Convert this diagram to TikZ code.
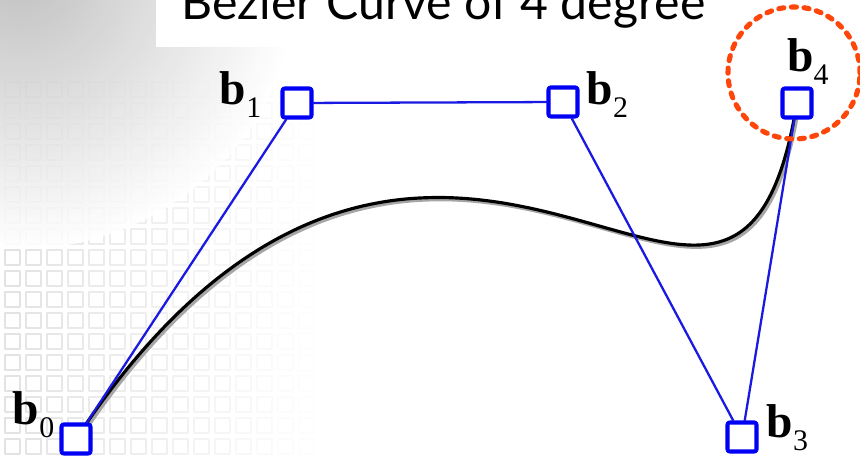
\documentclass[tikz,border=0pt]{standalone}
\usepackage{fontspec}
\setmainfont{Liberation Serif}
\newfontfamily\titlefont{Lato}
\usetikzlibrary{calc,positioning}

\definecolor{ctrlblue}{RGB}{0,0,245}
\definecolor{polyblue}{RGB}{25,25,225}
\definecolor{ringred}{RGB}{255,70,10}

\tikzset{
  ctrlbox/.style={draw=ctrlblue, line width=1.15pt, fill=white, rounded corners=0.6pt,
    minimum size=0.29cm, inner sep=0pt},
  polyline/.style={polyblue, line width=0.65pt},
  ptlabel/.style={inner sep=0pt, font=\fontsize{13.5}{14}\selectfont},
  ring/.style={circle, draw=ringred, line width=1.45pt, dash pattern=on 1.45pt off 2.15pt,
    minimum size=1.32cm, inner sep=0pt}
}
\newcommand{\ptname}[1]{\textbf{b}\raisebox{-0.13cm}{\fontsize{8.5}{9}\selectfont #1}}

% control points
\def\xa{0.76}\def\ya{0.20}
\def\xb{2.97}\def\yb{3.56}
\def\xc{5.63}\def\yc{3.57}
\def\xd{7.42}\def\yd{0.22}
\def\xe{7.97}\def\ye{3.56}

\begin{document}
\begin{tikzpicture}[line cap=round, line join=round]
\useasboundingbox (0,0) rectangle (8.6,4.59);
\clip (0,0) rectangle (8.6,4.59);
% faded background
\foreach \i in {0,...,14} {
  \foreach \j in {0,...,17} {
    \pgfmathsetmacro{\op}{0.22*(1-\i/15)}
    \draw[gray, opacity=\op, line width=0.3pt] (0.05+0.21*\i,0.05+0.21*\j) rectangle ++(0.15,0.15);
  }
}
\shade[inner color=gray!55, outer color=white, opacity=0.9] (0.2,4.9) circle (2.8);
% title
\fill[white] (1.56,4.12) rectangle (8.6,4.59);
\node[anchor=base west, inner sep=0pt] (title) at (1.81,4.39)
  {\resizebox{5.24cm}{!}{\titlefont Bezier Curve of 4 degree}};
% curve, shadow first
\foreach \c/\s in {gray!70/0.022, black/0} {
  \draw[\c, line width=0.9pt, smooth, domain=0:1, samples=100, variable=\t, shift={(\s,-\s)}]
    plot ({(1-\t)^4*\xa + 4*(1-\t)^3*\t*\xb + 6*(1-\t)^2*\t^2*\xc + 4*(1-\t)*\t^3*\xd + \t^4*\xe},
         {(1-\t)^4*\ya + 4*(1-\t)^3*\t*\yb + 6*(1-\t)^2*\t^2*\yc + 4*(1-\t)*\t^3*\yd + \t^4*\ye});
}
% control boxes
\node[ctrlbox] (b0) at (\xa,\ya) {};
\node[ctrlbox] (b1) at (\xb,\yb) {};
\node[ctrlbox] (b2) at (\xc,\yc) {};
\node[ctrlbox] (b3) at (\xd,\yd) {};
\node[ctrlbox] (b4) at (\xe,\ye) {};
\draw[polyline] (b0) -- (b1) -- (b2) -- (b3) -- (b4);
% labels
\node[ptlabel, anchor=base east] (lb0) at ($(b0)+(-0.21,0.14)$) {\ptname{0}};
\node[ptlabel, anchor=base east] (lb1) at ($(b1)+(-0.35,-0.02)$) {\ptname{1}};
\node[ptlabel, anchor=base west] (lb2) at ($(b2)+(0.23,-0.03)$) {\ptname{2}};
\node[ptlabel, anchor=base west] (lb3) at ($(b3)+(0.24,-0.01)$) {\ptname{3}};
\node[ptlabel, anchor=base] (lb4) at ($(b4)+(0.11,0.31)$) {\ptname{4}};
\node[ring] (hl) at ($(b4)+(-0.03,0.30)$) {};
\end{tikzpicture}
\end{document}
